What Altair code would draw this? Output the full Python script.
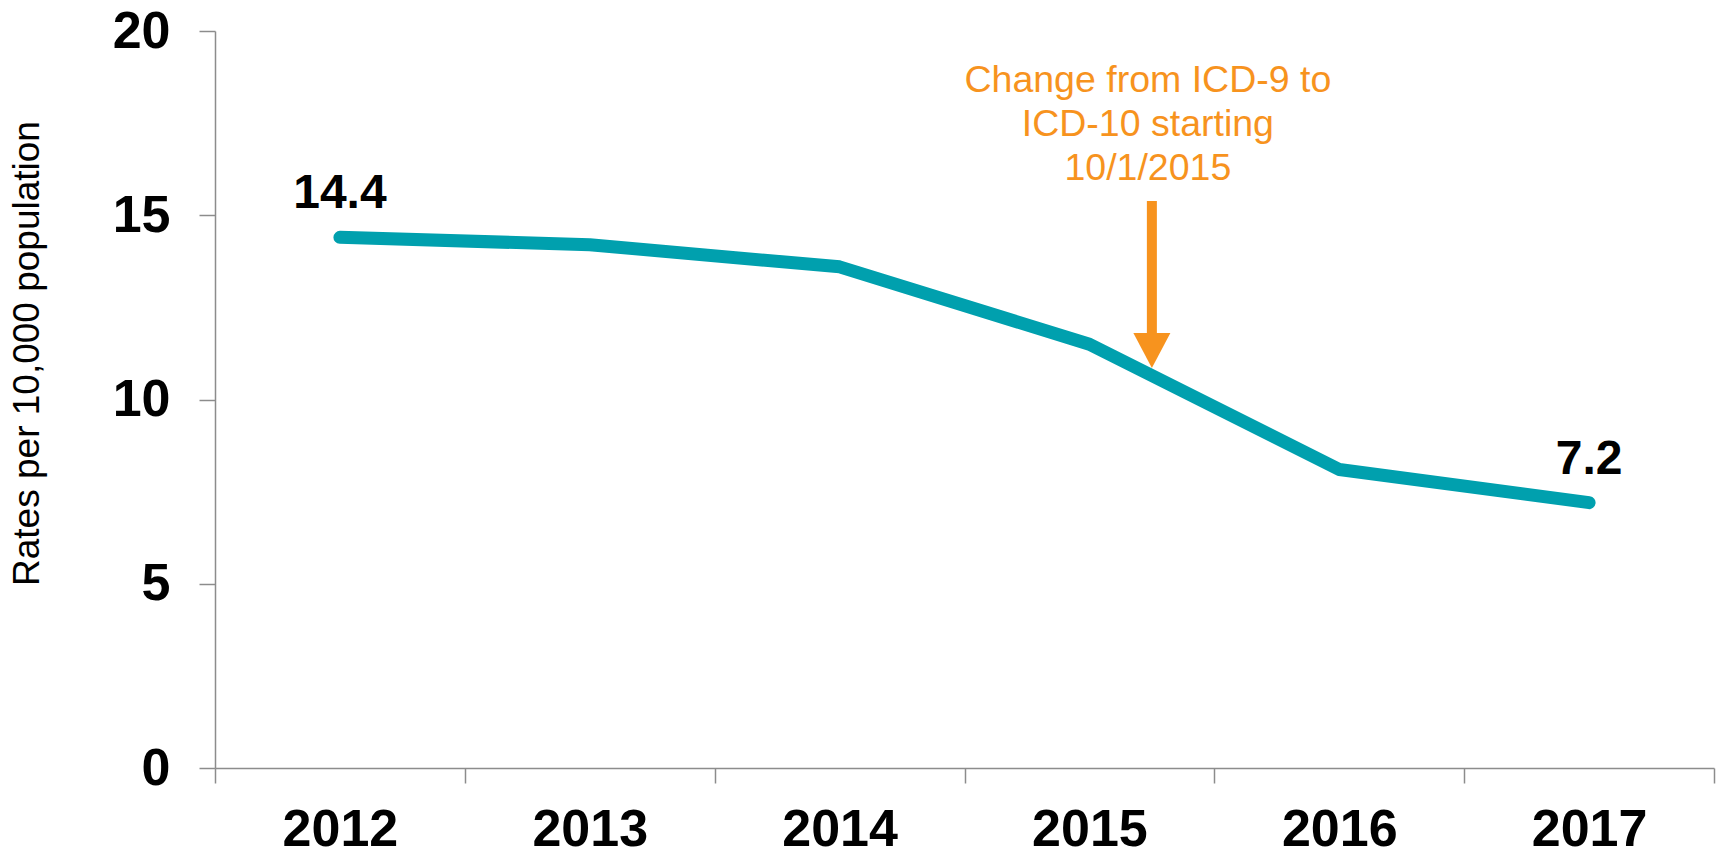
import altair as alt
import pandas as pd

# ---- data ----
years = ["2012", "2013", "2014", "2015", "2016", "2017"]
rates = [14.4, 14.2, 13.6, 11.5, 8.1, 7.2]

label_years = ["2012", "2017"]
label_values = [14.4, 7.2]
label_texts = ["14.4", "7.2"]

note_lines = ["Change from ICD-9 to", "ICD-10 starting", "10/1/2015"]
note_y = [18.64, 17.45, 16.26]
note_year = "2015"          # Oct 2015 -> 3/4 into the 2015 band
arrow_top = 15.39
arrow_head_base = 11.8
arrow_head_mid = 11.33

TEAL = "#00A0AE"
ORANGE = "#F7931E"
AXIS_GREY = "#8C8C8C"
FONT = "Liberation Sans"

df = pd.DataFrame({"year": years, "rate": rates})
lab = pd.DataFrame({"year": label_years, "rate": label_values, "txt": label_texts})
note = pd.DataFrame({"year": [note_year] * len(note_lines), "y": note_y, "txt": note_lines})
arrow = pd.DataFrame({"year": [note_year], "top": [arrow_top], "base": [arrow_head_base], "mid": [arrow_head_mid]})

x_scale = alt.Scale(type="band", domain=years, paddingInner=0, paddingOuter=0)
y_scale = alt.Scale(domain=[0, 20], nice=False, zero=True)

x_axis = alt.Axis(
    title=None, tickBand="extent", labelAngle=0,
    labelFont=FONT, labelFontSize=52, labelFontWeight="bold", labelColor="black",
    labelPadding=21, tickSize=15, tickColor=AXIS_GREY, tickWidth=1.5,
    domainColor=AXIS_GREY, domainWidth=1.5, grid=False,
)
y_axis = alt.Axis(
    title="Rates per 10,000 population", values=[0, 5, 10, 15, 20],
    labelFont=FONT, labelFontSize=52, labelFontWeight="bold", labelColor="black",
    labelPadding=29, tickSize=16, tickColor=AXIS_GREY, tickWidth=1.5,
    domainColor=AXIS_GREY, domainWidth=1.5, grid=False,
    titleFont=FONT, titleFontSize=37, titleFontWeight="normal", titleColor="black",
    titleAngle=-90, titleBaseline="middle", titleAlign="center",
    titleX=-188, titleY=322,
)

line = alt.Chart(df).mark_line(
    strokeWidth=13, strokeCap="round", strokeJoin="round", color=TEAL
).encode(
    x=alt.X("year:O", scale=x_scale, axis=x_axis),
    y=alt.Y("rate:Q", scale=y_scale, axis=y_axis),
)

labels = alt.Chart(lab).mark_text(
    font=FONT, fontSize=48, fontWeight="bold", color="black",
    baseline="alphabetic", align="center", dy=-29,
).encode(
    x=alt.X("year:O", scale=x_scale),
    y=alt.Y("rate:Q", scale=y_scale),
    text="txt:N",
)

note_text = alt.Chart(note).mark_text(
    font=FONT, fontSize=37.5, color=ORANGE, baseline="middle", align="center", dx=-4,
).encode(
    x=alt.X("year:O", scale=x_scale, bandPosition=0.75),
    y=alt.Y("y:Q", scale=y_scale),
    text="txt:N",
)

shaft = alt.Chart(arrow).mark_rule(color=ORANGE, strokeWidth=10).encode(
    x=alt.X("year:O", scale=x_scale, bandPosition=0.75),
    y=alt.Y("top:Q", scale=y_scale),
    y2="base:Q",
)

head = alt.Chart(arrow).mark_point(
    shape="M-1,-0.95L1,-0.95L0,0.95Z", size=1369, filled=True, opacity=1,
    color=ORANGE, strokeWidth=0,
).encode(
    x=alt.X("year:O", scale=x_scale, bandPosition=0.75),
    y=alt.Y("mid:Q", scale=y_scale),
)

chart = alt.layer(line, labels, note_text, shaft, head).properties(
    width=1499, height=737,
    padding={"left": 215, "top": 31, "right": 3, "bottom": 100},
    autosize=alt.AutoSizeParams(type="none"),
    background="white",
).configure_view(stroke=None)

chart.save("out.html", embed_options={"renderer": "svg", "actions": False})

with open("out.html", "r", encoding="utf-8") as f:
    html = f.read()
html = html.replace(
    "<head>", "<head><style>html,body{overflow:hidden;margin:0;padding:0;}</style>", 1
)
with open("out.html", "w", encoding="utf-8") as f:
    f.write(html)
